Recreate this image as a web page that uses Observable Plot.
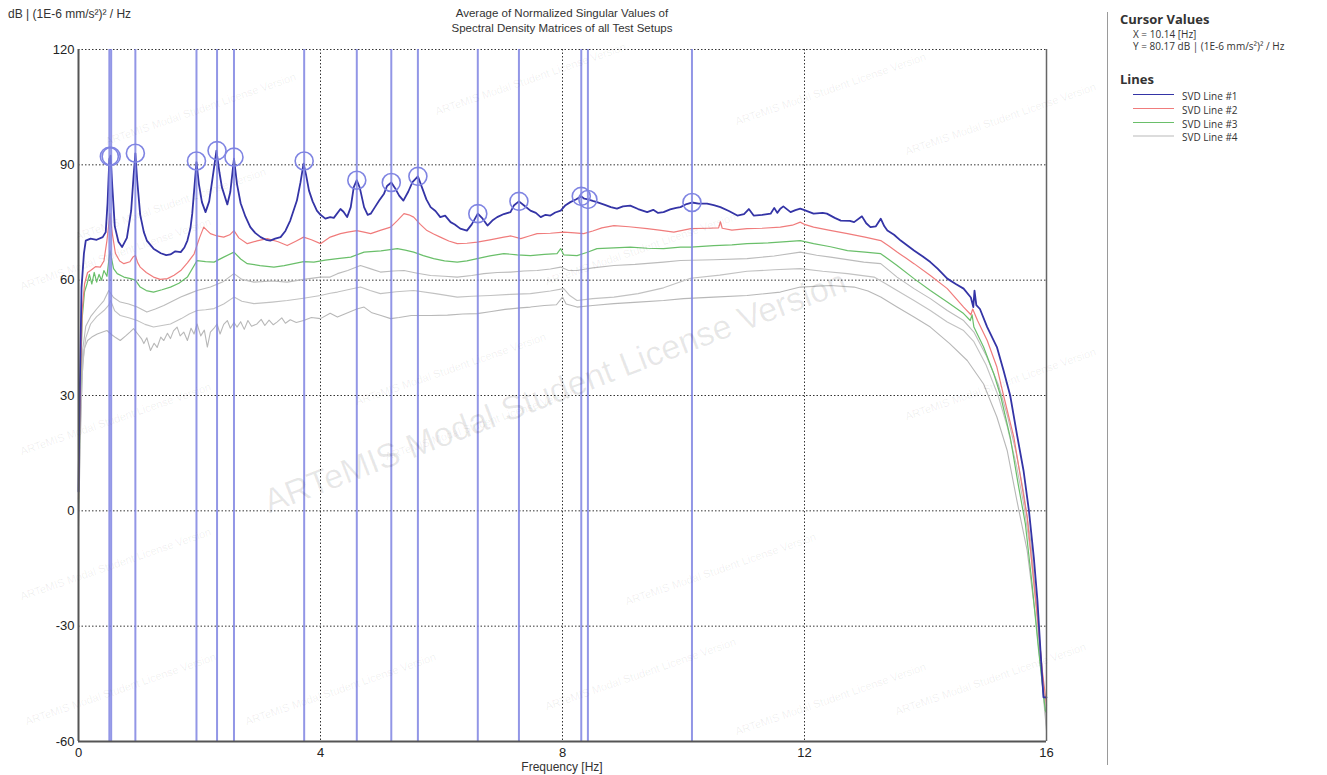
<!DOCTYPE html>
<html><head><meta charset="utf-8">
<script src="https://cdn.jsdelivr.net/npm/d3@7"></script>
<script src="https://cdn.jsdelivr.net/npm/@observablehq/plot@0.6"></script>
<style>
body{margin:0;background:#fff;font-family:"Liberation Sans",Arial,sans-serif;}
#wrap{position:relative;width:1327px;height:775px;overflow:hidden;background:#fff}
#chart{position:absolute;left:0;top:0}
.abs{position:absolute;white-space:nowrap}
.wm{position:absolute;white-space:nowrap;color:rgba(0,0,0,0.07);font-family:"Liberation Sans",Arial,sans-serif;transform-origin:center center;pointer-events:none}
.side{font-family:"Open Sans","Noto Sans",sans-serif;color:#333}
</style></head><body>
<div id="wrap">
<div id="chart"></div>
<div class="abs" style="left:8px;top:7px;font-size:12px;color:#333">dB | (1E-6 mm/s²)² / Hz</div>
<div class="abs" style="left:362px;width:400px;top:6px;font-size:11.5px;color:#333;text-align:center;line-height:15px">Average of Normalized Singular Values of<br>Spectral Density Matrices of all Test Setups</div>
<div class="abs" style="left:462px;width:200px;top:760px;font-size:12px;line-height:14px;color:#333;text-align:center">Frequency [Hz]</div>
<div class="abs" style="left:1107px;top:12px;width:1px;height:753px;background:#9a9a9a"></div>
<div class="abs side" style="left:1120px;top:10px;font-size:13px;font-weight:bold">Cursor Values</div>
<div class="abs side" style="left:1133px;top:27px;font-size:10px">X = 10.14 [Hz]</div>
<div class="abs side" style="left:1133px;top:39px;font-size:10px">Y = 80.17 dB | (1E-6 mm/s²)² / Hz</div>
<div class="abs side" style="left:1120px;top:70px;font-size:13px;font-weight:bold">Lines</div>
<div id="legend"></div>
<div id="wms"></div>
</div>
<script>
// ---------- data ----------
const xTicks = [0, 4, 8, 12, 16];
const yTicks = [-60, -30, 0, 30, 60, 90, 120];
const seriesNames = ["SVD Line #1", "SVD Line #2", "SVD Line #3", "SVD Line #4"];
const cursorX = 10.14, cursorY = 80.17;

// peak-picked frequencies (vertical lines) and their peak levels
const peakFreqs = [0.51, 0.54, 0.94, 1.95, 2.29, 2.57, 3.73, 4.60, 5.17, 5.61, 6.60, 7.28, 8.31, 8.42, 10.14];
const peakDb    = [92.2, 92.2, 93.0, 91.0, 93.7, 92.0, 91.0, 86.0, 85.4, 87.0, 77.3, 80.5, 81.8, 81.0, 80.2];

// [frequency Hz, dB]
const svd1 = [[0,5],[0.02,30],[0.05,58],[0.09,67],[0.12,70.3],[0.2,70.8],[0.3,70.5],[0.4,71.2],[0.45,72.5],[0.48,80],[0.51,91.5],[0.53,92.4],[0.56,84],[0.6,74],[0.66,70],[0.72,68.6],[0.8,71],[0.87,78],[0.91,87],[0.94,93],[0.97,86],[1.02,77],[1.08,72.5],[1.13,70.3],[1.24,68.2],[1.36,67],[1.45,66.5],[1.52,66.7],[1.6,67.5],[1.69,67.3],[1.75,68.5],[1.8,70.3],[1.85,73.5],[1.88,77.3],[1.92,85],[1.95,90.7],[1.99,85],[2.04,80.3],[2.1,77.7],[2.16,80.5],[2.21,85.9],[2.28,93.7],[2.33,88],[2.37,84.2],[2.46,79.7],[2.51,83],[2.57,91.6],[2.62,85],[2.68,80],[2.76,76.5],[2.84,73.8],[2.92,72.3],[3.01,71.2],[3.1,70.5],[3.17,70.3],[3.25,70.8],[3.34,71.2],[3.42,72.8],[3.5,75.5],[3.61,80.7],[3.67,85.5],[3.72,90.3],[3.76,87.5],[3.81,83.3],[3.87,80.5],[3.94,78.1],[4.0,77],[4.08,76],[4.16,76.4],[4.22,76.2],[4.33,78.5],[4.38,77.8],[4.44,76.4],[4.5,79],[4.55,84.2],[4.6,86],[4.65,84],[4.72,79],[4.78,77],[4.83,77.3],[4.9,79],[4.97,80.7],[5.05,82.5],[5.1,84.5],[5.17,85.4],[5.23,84],[5.3,82],[5.37,80.7],[5.45,83],[5.52,85.5],[5.61,87],[5.68,84],[5.75,81],[5.82,79],[5.9,78],[5.98,76.4],[6.06,76.8],[6.15,75.1],[6.22,74.5],[6.31,73.4],[6.42,72.9],[6.5,74.5],[6.6,77.3],[6.68,76],[6.76,74.2],[6.84,75.5],[6.92,76.4],[7.03,77.2],[7.14,77.7],[7.2,79.5],[7.28,80.5],[7.36,79.5],[7.47,78.1],[7.56,77.5],[7.64,76.4],[7.72,77],[7.8,76.8],[7.88,77.6],[7.97,78.1],[8.05,79.5],[8.13,80.3],[8.22,81],[8.31,81.8],[8.36,81.2],[8.42,81],[8.5,80.6],[8.57,80.3],[8.7,79.6],[8.8,79],[8.9,78.6],[9.0,79.2],[9.12,79.4],[9.25,78.5],[9.4,77.7],[9.5,78.3],[9.58,77.5],[9.67,77.7],[9.78,78.4],[9.88,78.8],[9.95,79],[10.05,79.8],[10.14,80.2],[10.25,79.9],[10.39,79.9],[10.5,79.5],[10.61,79],[10.75,78],[10.89,76.8],[11.0,77.2],[11.08,78.5],[11.16,76.8],[11.3,77],[11.44,77.3],[11.5,78.8],[11.55,77.5],[11.6,78.6],[11.65,79.2],[11.77,77.7],[11.85,78.2],[11.93,78.6],[12.0,78.2],[12.15,77.3],[12.3,77.5],[12.37,77.3],[12.5,76.2],[12.6,75.5],[12.75,75.4],[12.82,75.1],[12.95,76.6],[13.02,74.8],[13.09,73.8],[13.18,74],[13.26,76],[13.32,74],[13.37,72.9],[13.48,71.8],[13.59,70.3],[13.7,69],[13.81,67.7],[13.95,66.2],[14.08,64.7],[14.2,63],[14.36,60.4],[14.5,59],[14.63,57.8],[14.75,55.5],[14.79,53],[14.81,57.3],[14.84,53.5],[14.9,52.5],[15.02,47.8],[15.18,42.6],[15.29,36.5],[15.4,30],[15.51,20],[15.62,10.5],[15.71,0],[15.79,-12.1],[15.85,-23.3],[15.9,-36.3],[15.95,-48.5],[16.0,-48.5]];

const svd2 = [[0,3],[0.03,32],[0.06,52],[0.1,59],[0.15,62],[0.2,62.5],[0.28,63.5],[0.36,63.4],[0.42,65],[0.47,70.3],[0.52,77.3],[0.56,72],[0.61,67],[0.68,65],[0.75,64.3],[0.85,64.8],[0.9,66],[0.94,66.4],[0.98,64.5],[1.02,63.4],[1.12,62],[1.24,60.8],[1.35,60.2],[1.47,60.4],[1.58,61.3],[1.69,62.5],[1.8,64.5],[1.91,66.8],[2.0,71],[2.07,73.8],[2.12,73],[2.18,72.1],[2.29,71.5],[2.4,71.2],[2.5,71.8],[2.57,72.9],[2.65,71],[2.79,69.5],[2.95,70.2],[3.12,70.8],[3.3,70],[3.45,69],[3.6,70.2],[3.72,71.2],[3.85,70.5],[4.0,69.5],[4.16,71.2],[4.33,72.1],[4.45,72.5],[4.6,72.9],[4.72,72.5],[4.83,72.1],[5.0,73],[5.16,73.8],[5.27,75.5],[5.38,77.3],[5.46,77],[5.54,76.4],[5.65,74.5],[5.76,72.9],[5.87,72],[5.98,71.2],[6.12,70.2],[6.26,69.5],[6.42,69.6],[6.59,69.9],[6.8,70.5],[7.03,71.2],[7.15,71.5],[7.31,70.8],[7.45,71.5],[7.58,72.1],[7.8,72.2],[8.02,72.5],[8.2,72.3],[8.35,72.1],[8.5,72.8],[8.65,73.6],[8.85,74.2],[9.1,73.9],[9.4,73.4],[9.6,73],[9.84,72.5],[10.12,73.4],[10.4,73.5],[10.58,73.6],[10.61,75.2],[10.64,73.5],[10.8,73],[11.05,73.4],[11.3,73.5],[11.6,73.8],[11.8,74.3],[11.93,75.1],[12.0,74.5],[12.15,73.8],[12.4,73],[12.71,72.1],[13.0,71.2],[13.26,70.3],[13.4,68.8],[13.53,67.3],[13.67,65.8],[13.81,64.3],[14.08,61.2],[14.36,57.8],[14.63,53],[14.75,51],[14.78,52.5],[14.86,49.5],[15.02,44.3],[15.18,37.4],[15.29,30],[15.46,19.2],[15.57,8.8],[15.68,-1.6],[15.76,-13.8],[15.85,-27.7],[15.93,-41.5],[16.0,-50.6]];

const svd3 = [[0,2],[0.03,30],[0.06,50],[0.1,57],[0.14,59],[0.18,61.5],[0.22,59],[0.26,62],[0.3,59.5],[0.34,61.5],[0.38,60],[0.42,62.5],[0.47,61],[0.52,67.7],[0.58,63],[0.64,61.7],[0.75,60.8],[0.86,60.4],[0.94,60],[1.02,58.2],[1.12,57.3],[1.24,56.9],[1.38,57.5],[1.52,58.2],[1.66,59.2],[1.8,60.8],[1.96,65.1],[2.1,64.8],[2.24,64.7],[2.4,66],[2.57,67.3],[2.68,65.5],[2.79,64.3],[3.0,63.8],[3.23,63.4],[3.4,63.8],[3.56,64.3],[3.72,64.8],[3.89,64.7],[4.08,65.2],[4.28,65.6],[4.5,66],[4.72,67.3],[5.0,67.6],[5.27,68.2],[5.4,67.8],[5.54,67.3],[5.7,66.4],[5.87,65.6],[6.05,65],[6.26,64.7],[6.42,65],[6.59,65.6],[6.8,66.3],[7.03,66.9],[7.25,66.6],[7.47,66.4],[7.7,66.7],[7.91,66.9],[7.97,68.2],[8.02,66.6],[8.24,66.4],[8.4,67.2],[8.57,68.2],[8.85,68.4],[9.12,68.6],[9.4,68.3],[9.67,68.2],[9.95,68.6],[10.12,68.6],[10.5,69],[10.8,69.2],[11.05,69.5],[11.4,69.7],[11.7,70],[11.93,70.3],[12.15,69.5],[12.43,68.7],[12.71,67.7],[13.0,67.3],[13.26,66.9],[13.4,65.3],[13.53,63.8],[13.81,60.4],[14.08,57.3],[14.36,54.3],[14.63,51.3],[14.74,49.5],[14.77,51],[14.8,47.8],[14.96,42.6],[15.13,35.6],[15.24,30],[15.4,19.2],[15.53,7.1],[15.65,-3.3],[15.76,-18.9],[15.87,-36.3],[15.98,-51.9],[16.0,-52.5]];

const svd4 = [[0,0],[0.03,25],[0.07,42],[0.12,48],[0.2,50.5],[0.3,52.5],[0.42,54.7],[0.5,57.3],[0.58,55.5],[0.69,54.3],[0.83,53.8],[0.97,53],[1.13,51.7],[1.27,52.5],[1.41,53.4],[1.55,54.5],[1.69,55.6],[1.83,56.5],[1.96,57.3],[2.18,58.2],[2.38,59.5],[2.57,61.7],[2.7,60.2],[2.9,59.5],[3.2,59.8],[3.45,59.5],[3.72,60.2],[4.0,60.8],[4.16,60.8],[4.28,61.7],[4.45,62.5],[4.66,63.8],[4.82,63],[4.99,62.1],[5.2,62.4],[5.38,62.5],[5.6,61.8],[5.82,61.2],[6.05,61],[6.26,60.8],[6.5,61.2],[6.7,61.7],[6.92,62],[7.14,62.1],[7.36,62.4],[7.58,62.5],[7.8,62.9],[7.97,63.4],[8.1,62.5],[8.24,62.5],[8.5,63.2],[8.85,63.8],[9.2,64.1],[9.67,64.7],[9.95,65.1],[10.5,65.3],[11.05,65.6],[11.5,66.3],[11.93,67.3],[12.2,66.5],[12.43,66],[12.98,64.7],[13.26,64.3],[13.4,62.5],[13.53,60.8],[13.81,57.8],[14.08,55.2],[14.36,52.1],[14.63,49.5],[14.8,46.5],[15.0,40.5],[15.2,33],[15.35,25],[15.5,15],[15.62,5],[15.74,-8],[15.84,-25],[15.93,-42],[16.0,-55]];

const svd5 = [[0,-2],[0.03,22],[0.07,38],[0.12,45],[0.2,48.6],[0.3,50.5],[0.42,52.1],[0.5,53.5],[0.53,54.7],[0.6,52],[0.69,50.8],[0.83,50.2],[0.97,49.5],[1.1,48.5],[1.24,47.8],[1.38,48.2],[1.52,48.6],[1.7,50],[1.83,51.2],[1.96,52.1],[2.1,52.3],[2.24,52.6],[2.4,53.8],[2.57,55.6],[2.7,54.5],[2.9,53.9],[3.2,54.3],[3.45,54.7],[3.72,55.3],[4.0,56],[4.16,56.6],[4.28,56.9],[4.66,58.2],[4.82,57.3],[4.99,56.5],[5.25,57],[5.54,57.3],[5.9,56.5],[6.26,55.6],[6.5,55.8],[6.81,56],[7.14,56.3],[7.47,56.5],[7.8,57.2],[8.02,57.8],[8.12,56],[8.24,54.7],[8.5,55.2],[8.85,55.6],[9.25,56.5],[9.67,58],[10.12,60.5],[10.6,61.3],[11.05,62.3],[11.5,62.7],[11.93,63],[12.3,62.3],[12.71,61.7],[13.15,60.8],[13.35,59],[13.53,57.3],[13.81,54.7],[14.08,52.1],[14.36,49.1],[14.63,46.9],[14.8,44],[15.0,38],[15.2,30],[15.35,22],[15.5,12],[15.62,2],[15.74,-11],[15.84,-27],[15.93,-44],[16.0,-56]];

const svd6 = [[0,-4],[0.03,18],[0.06,35],[0.09,42],[0.15,44.3],[0.22,45.2],[0.31,46],[0.4,46.5],[0.47,46.9],[0.55,45.8],[0.62,45],[0.69,44.3],[0.78,45.5],[0.85,46.5],[0.91,47.4],[0.98,46],[1.04,44.8],[1.08,43.5],[1.13,45],[1.19,41.7],[1.25,43.6],[1.3,42.5],[1.36,45.2],[1.41,44.3],[1.47,46.2],[1.52,44.8],[1.57,46.8],[1.63,47.8],[1.68,45.5],[1.74,46.5],[1.8,44.3],[1.86,47.5],[1.91,46],[1.96,48.6],[2.02,45.5],[2.08,47],[2.13,42.6],[2.18,46.5],[2.24,47.5],[2.29,48.6],[2.34,46],[2.4,48.5],[2.46,49.5],[2.51,47.5],[2.57,49],[2.62,47.8],[2.68,49.2],[2.74,47.2],[2.8,49.5],[2.86,48],[2.95,48.6],[3.02,49.8],[3.08,48.2],[3.15,49.6],[3.22,48.4],[3.28,49.1],[3.36,50.2],[3.42,48.8],[3.5,49.7],[3.6,49],[3.72,49.5],[3.85,50.3],[4.0,50],[4.16,51.4],[4.28,50.4],[4.45,51.5],[4.6,52.5],[4.72,53],[4.85,51.5],[5.0,50.8],[5.16,50],[5.3,50.3],[5.5,50.8],[5.82,50.8],[6.1,50.9],[6.35,51.2],[6.59,51.3],[6.8,51.8],[7.05,52.4],[7.3,52.8],[7.47,53],[7.7,53.4],[7.9,53.6],[8.0,55.6],[8.06,53.8],[8.24,53],[8.5,53.4],[8.85,53.9],[9.25,54.3],[9.67,54.7],[10.0,55.2],[10.5,55.6],[11.05,56],[11.6,56.9],[11.93,58.2],[12.43,58.6],[12.82,58.2],[13.05,57.2],[13.26,55.6],[13.53,53],[13.81,50.4],[14.08,47.8],[14.4,43.5],[14.69,39.1],[14.96,33],[15.18,24.4],[15.35,15.7],[15.51,2.7],[15.68,-10.3],[15.82,-27.7],[15.93,-45],[16.0,-57.2]];

// ---------- styles ----------
const colBlue = "#3434a6", colRed = "#f07c7c", colGreen = "#6abf6a";
const greyCols = ["#bcbcbc", "#c2c2c2", "#b8b8b8"];
const peakCol = "#7f84e2";

const toObj = (arr, s) => arr.map(([f, v]) => ({f, v, s}));
const peaks = peakFreqs.map((f, i) => ({f, v: peakDb[i]}));

const chart = Plot.plot({
  width: 1327, height: 775,
  marginLeft: 78, marginRight: 281, marginTop: 49, marginBottom: 34,
  style: {fontFamily: "'Liberation Sans', Arial, sans-serif", fontSize: "13px", color: "#222", overflow: "visible", background: "transparent"},
  x: {domain: [0, 16], ticks: xTicks, tickSize: 0, tickPadding: 6, label: null, tickFormat: d => String(d)},
  y: {domain: [-60, 120], ticks: yTicks, tickSize: 0, tickPadding: 4, label: null, tickFormat: d => String(d)},
  marks: [
    Plot.ruleY(yTicks.filter(d => d > -60), {stroke: "#333", strokeWidth: 1, strokeDasharray: "1.5,2"}),
    Plot.ruleX(xTicks.filter(d => d > 0 && d < 16), {stroke: "#333", strokeWidth: 1, strokeDasharray: "1.5,2"}),
    Plot.line(toObj(svd6, 6), {x: "f", y: "v", stroke: greyCols[2], strokeWidth: 1.1}),
    Plot.line(toObj(svd5, 5), {x: "f", y: "v", stroke: greyCols[1], strokeWidth: 1.1}),
    Plot.line(toObj(svd4, 4), {x: "f", y: "v", stroke: greyCols[0], strokeWidth: 1.1}),
    Plot.line(toObj(svd3, 3), {x: "f", y: "v", stroke: colGreen, strokeWidth: 1.2}),
    Plot.line(toObj(svd2, 2), {x: "f", y: "v", stroke: colRed, strokeWidth: 1.2}),
    Plot.line(toObj(svd1, 1), {x: "f", y: "v", stroke: colBlue, strokeWidth: 1.8}),
    Plot.ruleX(peakFreqs, {stroke: peakCol, strokeWidth: 2, strokeOpacity: 0.85}),
    Plot.dot(peaks, {x: "f", y: "v", r: 9, stroke: peakCol, strokeWidth: 1.6, fill: "none"}),
    Plot.ruleX([0], {stroke: "#555", strokeWidth: 2}),
    Plot.ruleX([16], {stroke: "#666", strokeWidth: 1.5}),
    Plot.ruleY([-60], {stroke: "#555", strokeWidth: 2})
  ]
});
document.getElementById("chart").appendChild(chart);

// legend (built from series names and colours)
const legendCols = [colBlue, colRed, colGreen, "#dcdcdc"];
const leg = document.getElementById("legend");
seriesNames.forEach((name, i) => {
  const top = 89 + i * 13.8;
  const ln = document.createElement("div");
  ln.className = "abs";
  ln.style.cssText = `left:1133px;top:${top + 5}px;width:41px;height:1.3px;background:${legendCols[i]}`;
  leg.appendChild(ln);
  const tx = document.createElement("div");
  tx.className = "abs side";
  tx.style.cssText = `left:1182px;top:${top}px;font-size:10px`;
  tx.textContent = name;
  leg.appendChild(tx);
});

// watermarks
const wmText = "ARTeMIS Modal Student License Version";
const wmSmall = [[115,255],[200,110],[530,80],[830,90],[1000,120],[170,205],[115,420],[115,565],[120,690],[340,690],[640,675],[830,700],[990,680],[1000,385],[450,370],[480,425],[720,570],[640,250]];
const wms = document.getElementById("wms");
wmSmall.forEach(([cx, cy]) => {
  const d = document.createElement("div");
  d.className = "wm";
  d.style.cssText += `left:${cx - 100}px;top:${cy - 7}px;width:200px;text-align:center;font-size:11px;transform:rotate(-19deg)`;
  d.textContent = wmText;
  wms.appendChild(d);
});
const big = document.createElement("div");
big.className = "wm";
big.style.cssText += `left:${555 - 400}px;top:${393 - 21}px;width:800px;text-align:center;font-size:34px;color:rgba(0,0,0,0.09);transform:rotate(-21deg)`;
big.textContent = wmText;
wms.appendChild(big);
</script>
</body></html>
